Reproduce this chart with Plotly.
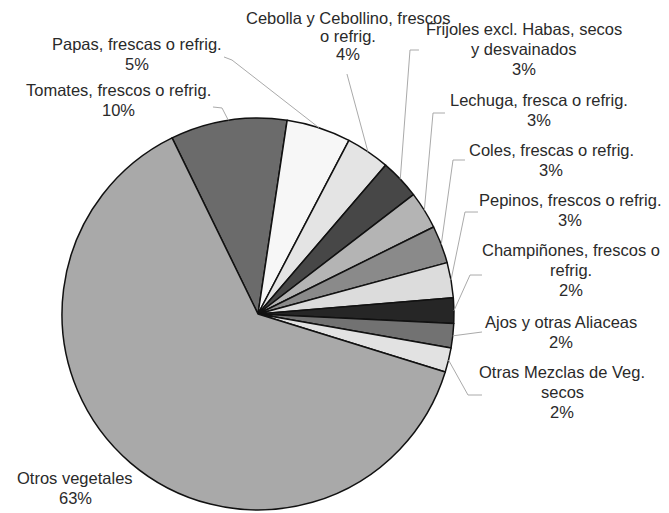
import math

import plotly.graph_objects as go

W, H = 669, 513
PAD = 8  # page body margin around the plot div

labels = [
    "Tomates, frescos o refrig.",
    "Papas, frescas o refrig.",
    "Cebolla y Cebollino, frescos o refrig.",
    "Frijoles excl. Habas, secos y desvainados",
    "Lechuga, fresca o refrig.",
    "Coles, frescas o refrig.",
    "Pepinos, frescos o refrig.",
    "Champiñones, frescos o refrig.",
    "Ajos y otras Aliaceas",
    "Otras Mezclas de Veg. secos",
    "Otros vegetales",
]
values = [9.6, 5.3, 3.6, 3.3, 3.1, 3.1, 2.9, 2.1, 2.0, 2.0, 63.0]
colors = ["#6b6b6b", "#f7f7f7", "#e4e4e4", "#474747", "#b4b4b4", "#8a8a8a",
          "#dcdcdc", "#262626", "#727272", "#e2e2e2", "#a9a9a9"]

# how each label is broken into lines on the chart
label_lines = [
    ["Tomates, frescos o refrig."],
    ["Papas, frescas o refrig."],
    ["Cebolla y Cebollino, frescos", "o refrig."],
    ["Frijoles excl. Habas, secos", "y desvainados"],
    ["Lechuga, fresca o refrig."],
    ["Coles, frescas o refrig."],
    ["Pepinos, frescos o refrig."],
    ["Champiñones, frescos o", "refrig."],
    ["Ajos y otras Aliaceas"],
    ["Otras Mezclas de Veg.", "secos"],
    ["Otros vegetales"],
]

# pie geometry (page pixels)
CX, CY, R = 258, 314, 196
ROT = -26

# label block placement (center x, first line y) and leader elbow points (page pixels)
label_pos = [(118, 90), (137, 44), (348, 18), (524, 29), (539, 100), (551, 150),
             (570, 200), (571, 250), (561, 322), (562, 372), (75, 478)]
line_gap = [20, 20, 18, 20, 20, 20, 20, 20, 20, 20, 20]
elbows = [
    [(213, 107), (222, 108)],
    [(224, 57), (232, 60)],
    [(347, 74)],
    [(419, 50), (410, 50)],
    [(445, 113), (433, 113)],
    [(465, 160), (453, 160)],
    [(478, 212), (465, 212)],
    [(482, 275), (470, 275)],
    [(482, 332)],
    [(482, 395), (468, 395)],
    None,
]


def px(x):
    return (x - PAD) / W


def py(y):
    return 1 - (y - PAD) / H


fig = go.Figure(
    go.Pie(
        labels=labels,
        values=values,
        sort=False,
        direction="clockwise",
        rotation=ROT,
        marker=dict(colors=colors, line=dict(color="#111111", width=1.5)),
        textinfo="none",
        hoverinfo="label+percent",
        domain=dict(x=[px(CX - R), px(CX + R)], y=[py(CY + R), py(CY - R)]),
        showlegend=False,
    )
)

total = sum(values)
cum = 0
shapes = []
annotations = []
for i, v in enumerate(values):
    mid = math.radians(ROT + 360 * (cum + v / 2) / total)
    cum += v
    pct = f"{round(100 * v / total)}%"
    lines = label_lines[i] + [pct]
    lx, ly = label_pos[i]
    for k, t in enumerate(lines):
        annotations.append(dict(
            x=px(lx), y=py(ly + line_gap[i] * k), xref="paper", yref="paper",
            text=t, showarrow=False, xanchor="center", yanchor="middle",
            font=dict(family="Liberation Sans, Arial", size=16.5, color="#2a2a2a"),
        ))
    if elbows[i]:
        ex = CX + R * math.sin(mid)
        ey = CY - R * math.cos(mid)
        pts = elbows[i] + [(ex, ey)]
        path = "M " + " L ".join(f"{px(a):.4f},{py(b):.4f}" for a, b in pts)
        shapes.append(dict(type="path", path=path, xref="paper", yref="paper",
                           line=dict(color="#aaaaaa", width=1)))

fig.update_layout(
    width=W,
    height=H,
    margin=dict(l=0, r=0, t=0, b=0),
    paper_bgcolor="white",
    plot_bgcolor="white",
    shapes=shapes,
    annotations=annotations,
)

fig.write_html("out.html")
